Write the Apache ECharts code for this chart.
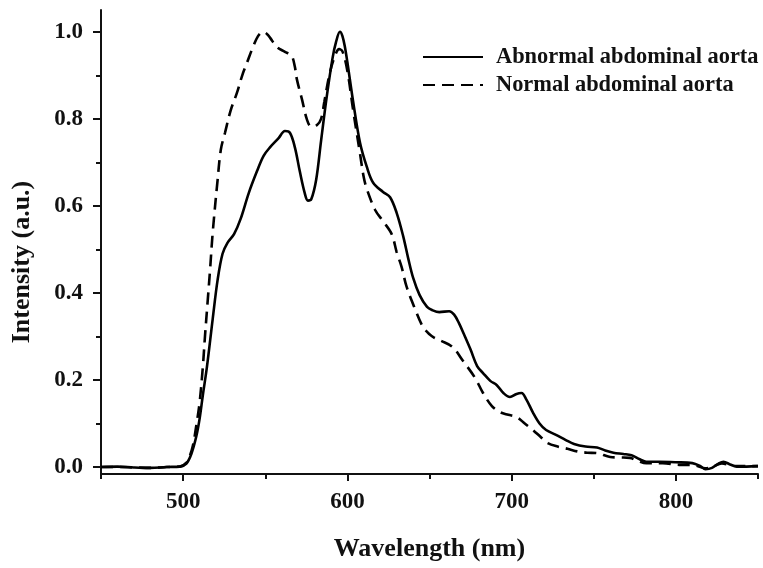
<!DOCTYPE html>
<html>
<head>
<meta charset="utf-8">
<script src="https://cdn.jsdelivr.net/npm/echarts@6/dist/echarts.min.js"></script>
<style>
html,body{margin:0;padding:0;background:#fff;}
#c{width:763px;height:568px;}
</style>
</head>
<body>
<div id="c"></div>
<script>
// Data
var abnormalWavelength = [450,460,470,480,490,498,502,505,508,510,512,514.5,518,521,524,527,531,535,540,545,549,553,558,562,565,568,571,574,576,578,581,584,587.4,591,593,595.5,597,598.5,600,603.5,607.7,611.8,615.7,621.7,626,630,634,637,640,644,648.5,652,656,662,665,668,671,675,679,682.6,687,691,695,699,703,706,709,713,717,721,727,733,738,745,752,757,762,768,773,778,782,790,800,810,815,818,822,826,829,833,837,843,850];
var abnormalIntensity = [0.000,0.001,-0.001,-0.002,0.000,0.001,0.008,0.03,0.07,0.11,0.165,0.23,0.34,0.43,0.49,0.515,0.535,0.57,0.63,0.68,0.715,0.735,0.755,0.772,0.768,0.735,0.68,0.63,0.612,0.615,0.66,0.75,0.85,0.94,0.975,1.0,0.99,0.965,0.93,0.84,0.745,0.69,0.653,0.632,0.62,0.584,0.53,0.48,0.435,0.395,0.368,0.36,0.356,0.358,0.35,0.33,0.305,0.27,0.232,0.216,0.198,0.188,0.17,0.161,0.168,0.17,0.155,0.125,0.1,0.085,0.074,0.062,0.053,0.047,0.045,0.038,0.033,0.03,0.027,0.018,0.012,0.012,0.011,0.009,0.002,-0.005,-0.002,0.008,0.012,0.006,0.001,0.001,0.002];

var normalWavelength = [450,460,470,480,490,498,502,504,506,508,510,512,513.3,515,516.4,518,521,523,525.5,529,532.8,536,539,542,545.6,548.6,551,553,557,562,566,568,569.3,572.4,575.4,578,581.5,584,586,589,592,595,597,600,603.5,607.7,610,612,617,621.7,627,630,633,636,641,646,650,653,657,664,670,677.7,682.6,688,693,698,703,708,713,718,722,728,734,740,746,752,760,766,772,777,782,792,802,810,818,822,828,835,850];
var normalIntensity = [0.000,0.000,-0.001,-0.002,0.000,0.001,0.01,0.025,0.05,0.095,0.147,0.23,0.3,0.384,0.453,0.538,0.66,0.73,0.768,0.82,0.86,0.9,0.93,0.96,0.99,1.0,0.995,0.986,0.965,0.954,0.945,0.92,0.89,0.844,0.798,0.782,0.786,0.8,0.84,0.9,0.94,0.96,0.955,0.91,0.82,0.72,0.665,0.637,0.59,0.565,0.535,0.494,0.46,0.415,0.365,0.322,0.305,0.297,0.29,0.276,0.246,0.205,0.17,0.14,0.126,0.12,0.115,0.1,0.085,0.068,0.055,0.047,0.042,0.036,0.033,0.032,0.023,0.022,0.021,0.014,0.009,0.009,0.005,0.005,-0.003,0,0.008,0.003,0.002];

var seriesNames = ['Abnormal abdominal aorta','Normal abdominal aorta'];
var yMajorTicks = [0,0.2,0.4,0.6,0.8,1.0];
var yMinorTicks = [0.1,0.3,0.5,0.7,0.9];
var xMajorTicks = [500,600,700,800];
var xMinorTicks = [450,550,650,750,850];

function pairs(xs, ys){ return xs.map(function(x,i){ return [x, ys[i]]; }); }

var FONT = '"Liberation Serif", "Times New Roman", serif';
var INK = '#111';

var chart = echarts.init(document.getElementById('c'), null, {renderer:'canvas'});
chart.setOption({
  animation:false,
  backgroundColor:'#fff',
  grid:{left:101,right:5,top:10,bottom:94,containLabel:false},
  legend:{
    orient:'vertical', left:417, top:41,
    itemWidth:60, itemHeight:14, itemGap:6,
    itemStyle:{color:'rgba(0,0,0,0)',opacity:0,borderWidth:0},
    textStyle:{fontFamily:FONT,fontWeight:'bold',fontSize:22.4,color:INK,lineHeight:22,padding:[0,0,0,8]},
    data:seriesNames
  },
  xAxis:[{
    type:'value', min:450, max:850,
    axisLine:{onZero:false,lineStyle:{color:INK,width:2}},
    axisTick:{show:true,length:7,inside:false,customValues:xMajorTicks,lineStyle:{color:INK,width:2}},
    axisLabel:{customValues:xMajorTicks,margin:17,fontFamily:FONT,fontWeight:'bold',fontSize:23,color:INK},
    splitLine:{show:false},
    name:'Wavelength (nm)', nameLocation:'middle', nameGap:62,
    nameTextStyle:{fontFamily:FONT,fontWeight:'bold',fontSize:26,color:INK}
  },{
    type:'value', min:450, max:850, position:'bottom',
    axisLine:{show:false,onZero:false},
    axisTick:{show:true,length:5,customValues:xMinorTicks,lineStyle:{color:INK,width:2}},
    axisLabel:{show:false},
    splitLine:{show:false}
  }],
  yAxis:[{
    type:'value', min:-0.016, max:1.05,
    axisLine:{show:true,onZero:false,lineStyle:{color:INK,width:2}},
    axisTick:{show:true,length:8,customValues:yMajorTicks,lineStyle:{color:INK,width:2}},
    axisLabel:{customValues:yMajorTicks,margin:18,fontFamily:FONT,fontWeight:'bold',fontSize:23,color:INK,
      formatter:function(v){return v.toFixed(1);}},
    splitLine:{show:false},
    name:'Intensity (a.u.)', nameLocation:'middle', nameGap:66,
    nameTextStyle:{fontFamily:FONT,fontWeight:'bold',fontSize:26,color:INK,padding:[0,40,0,0]}
  },{
    type:'value', min:-0.016, max:1.05, position:'left',
    axisLine:{show:false,onZero:false},
    axisTick:{show:true,length:5,customValues:yMinorTicks,lineStyle:{color:INK,width:2}},
    axisLabel:{show:false},
    splitLine:{show:false}
  }],
  series:[{
    name:seriesNames[0], type:'line', xAxisIndex:0, yAxisIndex:0,
    data:pairs(abnormalWavelength, abnormalIntensity),
    showSymbol:false, symbol:'none', smooth:0.35,
    lineStyle:{color:'#000',width:2.6,type:'solid'},
    itemStyle:{color:'#000'}, z:3
  },{
    name:seriesNames[1], type:'line', xAxisIndex:0, yAxisIndex:0,
    data:pairs(normalWavelength, normalIntensity),
    showSymbol:false, symbol:'none', smooth:0.35,
    lineStyle:{color:'#000',width:2.6,type:[12,7]},
    itemStyle:{color:'#000'}, z:2
  }]
});
</script>
</body>
</html>
